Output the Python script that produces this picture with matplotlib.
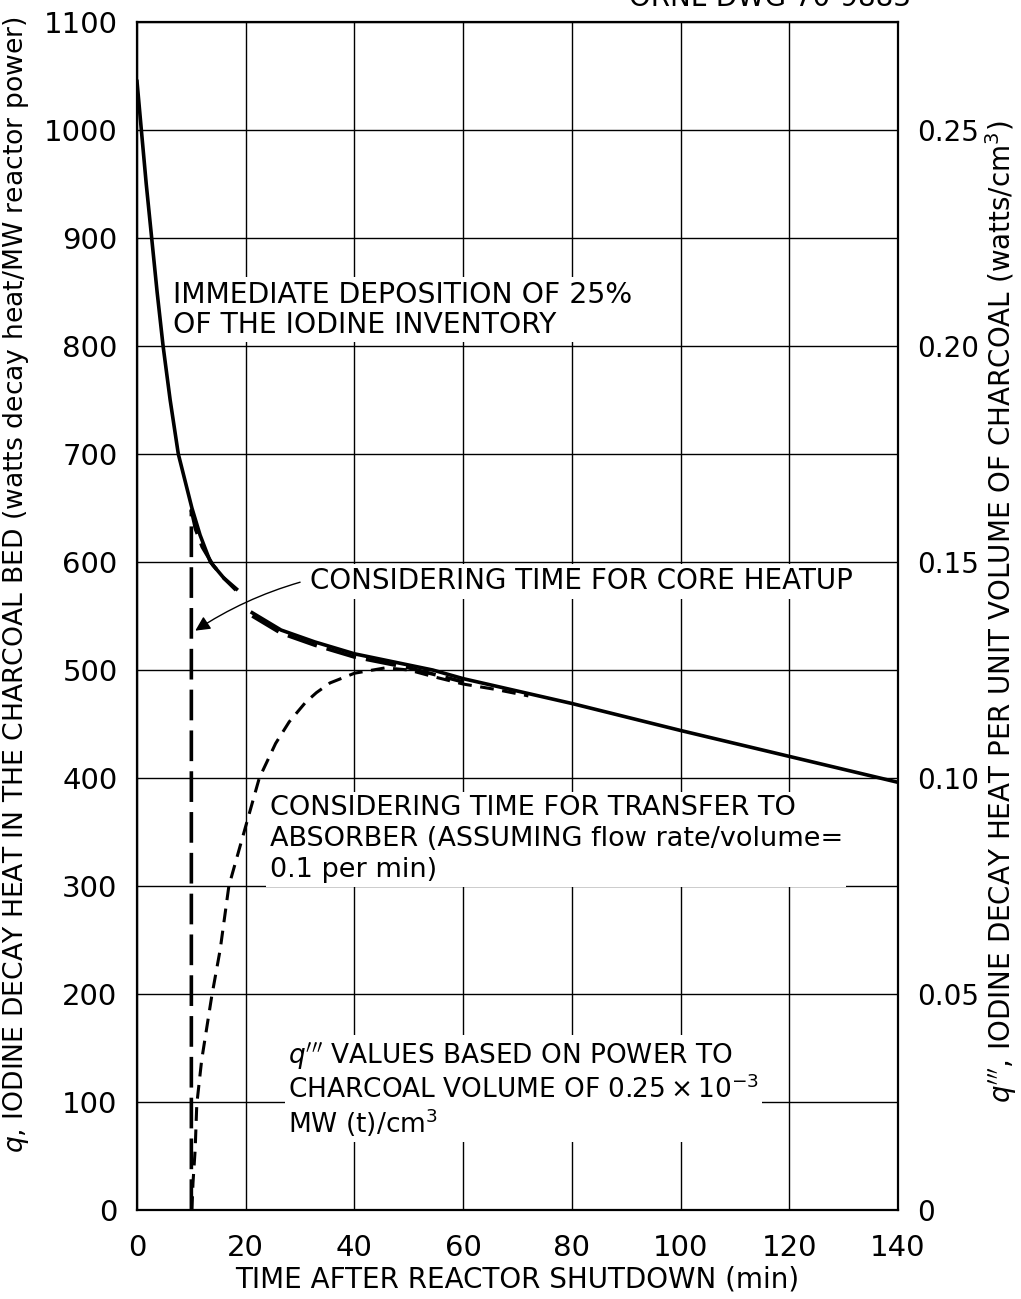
import numpy as np
import matplotlib.pyplot as plt

plt.rcParams['font.family'] = ['DejaVu Sans']
plt.rcParams['mathtext.fontset'] = 'dejavusans'

# time after shutdown (min) and decay heat q (W per MW reactor power)
# immediate deposition of 25% of the iodine inventory
t_immediate = [0, 0.8, 1.7, 2.7, 3.7, 4.8, 6.1, 7.6, 10.1, 11.6, 13.5, 16.0, 18.3, np.nan,
               21.2, 26.5, 32.7, 40, 54.4, 60, 80, 100, 120, 140]
q_immediate = [1045, 1000, 950, 900, 850, 800, 750, 700, 650, 625, 600, 585, 575, np.nan,
               553, 537, 526, 515, 500, 492, 469, 444, 420, 396]

# considering time for core heatup
t_heatup = [10, 10, 10.8, 12, 14, 16, 18.2, np.nan,
            21.2, 26.5, 32.7, 40, 50, 60]
q_heatup = [0, 648, 630, 614, 597, 585, 574, np.nan,
            550, 534, 523, 512, 502, 489]

# considering time for transfer to absorber (0.1 per min)
t_transfer = [10.1, 10.3, 10.7, 11.0, 11.9, 13.75, 15.3, 16.9, 19.7, 22.5,
              25.5, 28, 31, 33, 35.5, 40, 45.7, 50, 54.4, 60, 66, 72]
q_transfer = [0, 25, 56, 98, 139, 198, 241, 300, 350, 400,
              432, 452, 470, 479, 488, 497, 502, 500, 494, 487, 482, 476]

x_ticks = [0, 20, 40, 60, 80, 100, 120, 140]
y_ticks = [0, 100, 200, 300, 400, 500, 600, 700, 800, 900, 1000, 1100]
q3_ticks = [0, 0.05, 0.10, 0.15, 0.20, 0.25]
q3_labels = ['0', '0.05', '0.10', '0.15', '0.20', '0.25']
power_density = 0.25e-3   # MW(t)/cm3

fig = plt.figure(figsize=(10.21, 12.99), dpi=100)
ax = fig.add_axes([137/1021, 89/1299, 761/1021, 1188/1299])
ax.set_xlim(0, 140)
ax.set_ylim(0, 1100)
ax.set_xticks(x_ticks)
ax.set_yticks(y_ticks)
ax.grid(True, color='black', lw=1.0)
for s in ax.spines.values():
    s.set_linewidth(1.6)
ax.tick_params(axis='both', length=0, labelsize=21)
ax.tick_params(axis='y', pad=14)
ax.tick_params(axis='x', pad=17)

ax.plot(t_immediate, q_immediate, color='black', lw=2.6, zorder=5)
ax.plot(t_heatup, q_heatup, color='black', lw=2.6, dashes=(8.5, 2.8), zorder=5)
ax.plot(t_transfer, q_transfer, color='black', lw=2.2, dashes=(4.5, 2.8), zorder=5)

# second scale: q''' = q * power density
ax2 = ax.twinx()
ax2.set_ylim(0, 1100 * power_density)
ax2.set_yticks(q3_ticks)
ax2.set_yticklabels(q3_labels)
ax2.tick_params(axis='y', length=0, labelsize=20, pad=14)
for s in ax2.spines.values():
    s.set_visible(False)

box = dict(boxstyle='square,pad=0.12', fc='white', ec='none')

# va='baseline' on multi-line text anchors the last line
ax.text(6.6, 812, 'IMMEDIATE DEPOSITION OF 25%\nOF THE IODINE INVENTORY',
        fontsize=20.3, linespacing=1.1, va='baseline', ha='left', bbox=box, zorder=3)
ax.text(31.8, 582, 'CONSIDERING TIME FOR CORE HEATUP',
        fontsize=20, va='center', ha='left', bbox=box, zorder=3)
ax.annotate('', xy=(10.3, 535), xytext=(30.5, 582),
            arrowprops=dict(arrowstyle='-|>', color='black', lw=1.0,
                            mutation_scale=22,
                            connectionstyle='arc3,rad=0.08'),
            zorder=4)
ax.text(24.4, 308, 'CONSIDERING TIME FOR TRANSFER TO\n'
        'ABSORBER (ASSUMING flow rate/volume=\n0.1 per min)',
        fontsize=19.5, linespacing=1.25, va='baseline', ha='left', bbox=box, zorder=3)
ax.text(27.8, 71, "$q^{\\prime\\prime\\prime}$ VALUES BASED ON POWER TO\n"
        "CHARCOAL VOLUME OF $0.25\\times10^{-3}$\nMW (t)/cm$^3$",
        fontsize=19, linespacing=1.12, va='baseline', ha='left', bbox=box, zorder=3)

ax.set_xlabel('TIME AFTER REACTOR SHUTDOWN (min)', fontsize=20, labelpad=3)
fig.text(16/1021, 1 - 585/1299,
         '$q$, IODINE DECAY HEAT IN THE CHARCOAL BED (watts decay heat/MW reactor power)',
         rotation=90, fontsize=19.2, ha='center', va='center')
fig.text(1001/1021, 1 - 612/1299,
         "$q^{\\prime\\prime\\prime}$, IODINE DECAY HEAT PER UNIT VOLUME OF CHARCOAL (watts/cm$^3$)",
         rotation=90, fontsize=20, ha='center', va='center')
fig.text(770/1021, 1 - 6/1299, 'ORNL-DWG 70-9883', fontsize=20,
         ha='center', va='baseline')

fig.savefig('out.png', dpi=100)
